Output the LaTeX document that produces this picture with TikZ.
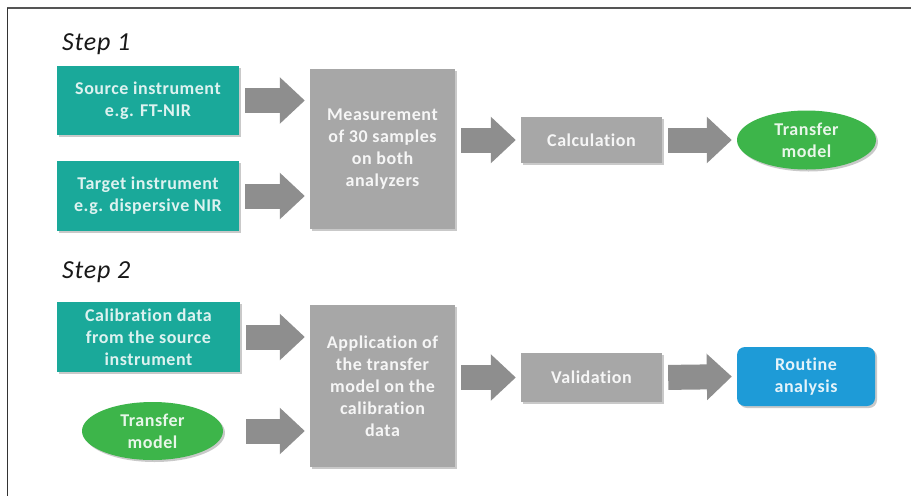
\documentclass[tikz,border=0pt]{standalone}
\usepackage{fontspec}
\setmainfont{Carlito}[LetterSpace=3.0, Ligatures={NoCommon}]
\usetikzlibrary{shapes.geometric,arrows.meta,shadows}
\definecolor{teal1}{HTML}{1AA99A}
\definecolor{boxgray}{HTML}{A7A7A7}
\definecolor{arrgray}{HTML}{8E8E8E}
\definecolor{green1}{HTML}{3DB54A}
\definecolor{blue1}{HTML}{1E9BD7}
\definecolor{frame1}{HTML}{555555}
\tikzset{
  base/.style={inner sep=2pt, align=center, font=\bfseries\fontsize{18}{22}\selectfont,
    drop shadow={shadow xshift=2pt, shadow yshift=-2pt, opacity=0.35, fill=black!60}},
  tealbox/.style={base, rectangle, fill=teal1, text=white!85!teal1},
  graybox/.style={base, rectangle, fill=boxgray, text=white!90!boxgray},
  greenell/.style={base, ellipse, fill=green1, text=white!88!green1},
  bluebox/.style={base, rectangle, rounded corners=8pt, fill=blue1, text=white!88!blue1},
  steplabel/.style={anchor=base west, inner sep=0pt, text=black!90,
    font=\itshape\fontsize{26}{30}\selectfont},
  blockarrow/.style={draw=arrgray, line width=25pt,
    -{Triangle[width=45pt 0 0, length=25pt 0 0]}, shorten <=6pt, shorten >=5pt}
}
\begin{document}
\begin{tikzpicture}[x=1pt, y=-1pt]
\useasboundingbox (0,0) rectangle (911,496);
\fill[white] (0,0) rectangle (911,496);
\draw[frame1, line width=2pt] (7,8) -- (911,8);
\draw[black!80, line width=1pt] (7,8) -- (7,496);

\node[steplabel] (s1) at (62,50) {Step 1};
\node[steplabel] (s2) at (62,278) {Step 2};

% Step 1
\node[tealbox, minimum width=182pt, minimum height=69pt] (src) at (148,100.5) {Source instrument\\e.g. FT-NIR};
\node[tealbox, minimum width=182pt, minimum height=70pt] (tgt) at (148,196) {Target instrument\\e.g. dispersive NIR};
\node[graybox, minimum width=145pt, minimum height=160pt] (meas) at (382.5,149) {Measurement\\of 30 samples\\on both\\analyzers};
\node[graybox, minimum width=141pt, minimum height=46pt] (calc) at (591.5,140) {Calculation};
\node[greenell, minimum width=139pt, minimum height=59pt] (tm1) at (806.5,140) {Transfer\\model};

\draw[blockarrow] (src.east) -- (src.east -| meas.west);
\draw[blockarrow] (tgt.east) -- (tgt.east -| meas.west);
\draw[blockarrow] (meas.east |- calc.west) -- (calc.west);
\draw[blockarrow] (calc.east) -- (tm1.west);

% Step 2
\node[tealbox, minimum width=183pt, minimum height=70pt] (cal) at (148.5,337) {Calibration data\\from the source\\instrument};
\node[greenell, minimum width=141pt, minimum height=58pt] (tm2) at (152.5,431) {Transfer\\model};
\node[graybox, minimum width=145pt, minimum height=162pt] (app) at (382.5,386) {Application of\\the transfer\\model on the\\calibration\\data};
\node[graybox, minimum width=141pt, minimum height=49pt] (val) at (591.5,377.5) {Validation};
\node[bluebox, minimum width=138pt, minimum height=59pt] (rout) at (806,376.5) {Routine\\analysis};

\draw[blockarrow] (cal.east) -- (cal.east -| app.west);
\draw[blockarrow] (tm2.east -| cal.east) -- (tm2.east -| app.west);
\draw[blockarrow] (app.east |- val.west) -- (val.west);
\draw[blockarrow] (val.east) -- (rout.west);
\end{tikzpicture}
\end{document}
